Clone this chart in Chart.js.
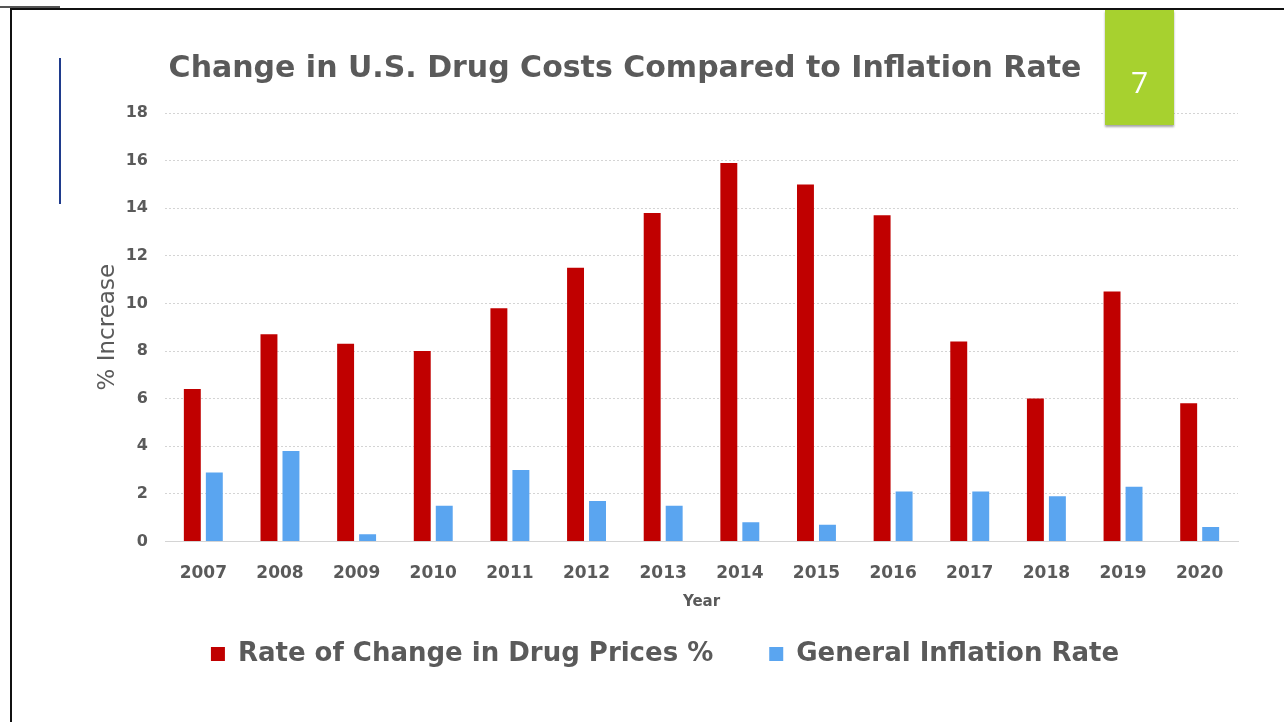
<!DOCTYPE html>
<html>
<head>
<meta charset="utf-8">
<script src="https://cdn.jsdelivr.net/npm/chart.js@4.4.1/dist/chart.umd.min.js"></script>
<style>
    body { margin: 0; background: #fff; }
    #wrap { position: relative; width: 1284px; height: 722px; overflow: hidden; }
    #chart { position: absolute; left: 0; top: 0; }
    .frame-top { position: absolute; left: 10px; top: 8px; width: 1274px; height: 2px; background: #111; }
    .frame-left { position: absolute; left: 10px; top: 8px; width: 2px; height: 714px; background: #111; }
    .frame-stub { position: absolute; left: 0; top: 6px; width: 60px; height: 2px; background: #555; }
    .accent { position: absolute; left: 59px; top: 58px; width: 2px; height: 146px; background: #1f3b8c; }
    .slide-num { position: absolute; left: 1105px; top: 10px; width: 69px; height: 115px; background: #a7d12f;
        box-shadow: 0 2px 2px rgba(0,0,0,0.35); color: #fff; font-family: 'Open Sans', sans-serif; font-size: 30px;
        text-align: center; line-height: 30px; }
    .slide-num span { position: absolute; left: 0; right: 0; top: 57px; }
    .title { position: absolute; left: 0; width: 1250px; top: 49px; text-align: center;
        font-family: 'DejaVu Sans', sans-serif; font-weight: bold; font-size: 30px; color: #5a5a5a; }
</style>
</head>
<body>
<div id="wrap">
    <canvas id="chart" width="1284" height="722"></canvas>
    <div class="title">Change in U.S. Drug Costs Compared to Inflation Rate</div>
    <div class="frame-stub"></div>
    <div class="frame-top"></div>
    <div class="frame-left"></div>
    <div class="accent"></div>
    <div class="slide-num"><span>7</span></div>
</div>
<script>
const years = ['2007', '2008', '2009', '2010', '2011', '2012', '2013', '2014', '2015', '2016', '2017', '2018', '2019', '2020'];
const drugPriceChange = [6.4, 8.7, 8.3, 8.0, 9.8, 11.5, 13.8, 15.9, 15.0, 13.7, 8.4, 6.0, 10.5, 5.8];
const inflationRate = [2.9, 3.8, 0.3, 1.5, 3.0, 1.7, 1.5, 0.8, 0.7, 2.1, 2.1, 1.9, 2.3, 0.6];
const yTicks = [0, 2, 4, 6, 8, 10, 12, 14, 16, 18];

const grey = '#5a5a5a';
const font = 'DejaVu Sans';

const chart = new Chart(document.getElementById('chart'), {
    type: 'bar',
    data: {
        labels: years,
        datasets: [{
            label: 'Rate of Change in Drug Prices %',
            data: drugPriceChange,
            backgroundColor: '#c00000',
            categoryPercentage: 0.574,
            barPercentage: 0.77
        }, {
            label: 'General Inflation Rate',
            data: inflationRate,
            backgroundColor: '#5aa5f0',
            categoryPercentage: 0.574,
            barPercentage: 0.77
        }]
    },
    options: {
        responsive: false,
        animation: false,
        layout: {
            padding: { left: 92, right: 46, top: 113, bottom: 45 }
        },
        scales: {
            y: {
                min: 0,
                max: 18,
                afterFit: function(scale) { scale.width = 73; },
                afterBuildTicks: function(scale) { scale.ticks = yTicks.map(v => ({ value: v })); },
                ticks: {
                    color: grey,
                    padding: 17,
                    font: { family: font, size: 16, weight: 'bold' }
                },
                grid: {
                    color: '#d4d4d4',
                    drawTicks: false
                },
                border: { display: false, dash: [2, 2] },
                title: {
                    display: true,
                    text: '% Increase',
                    color: grey,
                    padding: { top: 2, bottom: 0 },
                    font: { family: font, size: 23 }
                }
            },
            x: {
                grid: { display: false, drawTicks: false },
                border: { display: true, color: '#d4d4d4' },
                ticks: {
                    color: grey,
                    padding: 25,
                    font: { family: font, size: 17, weight: 'bold', lineHeight: 0.8 }
                },
                title: {
                    display: true,
                    text: 'Year',
                    color: grey,
                    // negative bottom padding lets the legend sit closer while keeping its wide item spacing
                    padding: { top: -12, bottom: -26 },
                    font: { family: font, size: 15, weight: 'bold' }
                }
            }
        },
        plugins: {
            legend: {
                position: 'bottom',
                labels: {
                    boxWidth: 14,
                    boxHeight: 14,
                    padding: 56,
                    color: grey,
                    font: { family: font, size: 26, weight: 'bold' }
                }
            },
            tooltip: { enabled: false }
        }
    }
});
</script>
</body>
</html>
